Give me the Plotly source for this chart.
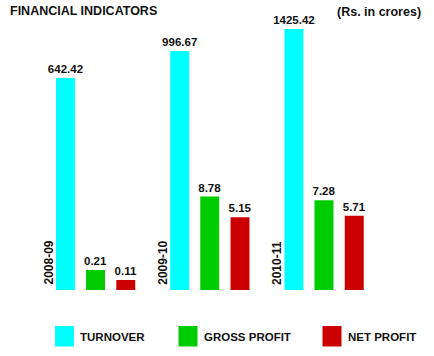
import numpy as np
import plotly.graph_objects as go

years = ["2008-09", "2009-10", "2010-11"]
turnover = [642.42, 996.67, 1425.42]
gross_profit = [0.21, 8.78, 7.28]
net_profit = [0.11, 5.15, 5.71]
series_names = ["TURNOVER", "GROSS PROFIT", "NET PROFIT"]
title_text = "FINANCIAL INDICATORS"
unit_text = "(Rs. in crores)"

colors = ["#00FFFF", "#00CC00", "#CC0000"]
FONT = "Arial, Liberation Sans, Helvetica, sans-serif"

W, H = 434, 356
T, B = 20, 66
PH = H - T - B  # plot height in px

fig = go.Figure()
series = [turnover, gross_profit, net_profit]
axes = ["y", "y2", "y3"]
offsets = [-0.346, -0.083, 0.182]
for vals, name, col, ax, off in zip(series, series_names, colors, axes, offsets):
    fig.add_trace(go.Bar(
        x=years, y=vals, name=name, yaxis=ax,
        marker=dict(color=col, line=dict(width=0)),
        width=0.166, offset=off,
        text=[f"{v:.2f}" for v in vals], textposition="outside",
        constraintext="none",
        textfont=dict(family=FONT, size=11.5, color="#111111", weight="bold"),
        cliponaxis=False, showlegend=False, hoverinfo="skip",
    ))

hidden = dict(visible=False, showgrid=False, zeroline=False)
fig.update_layout(
    width=W, height=H,
    margin=dict(l=0, r=0, t=T, b=B),
    paper_bgcolor="white", plot_bgcolor="white",
    showlegend=False,
    xaxis=dict(**hidden, type="category", range=[-0.836, 2.963]),
    yaxis=dict(**hidden, type="log", range=[1.31, 1.31 + PH / 141.5]),
    yaxis2=dict(**hidden, type="log", overlaying="y", range=[-1.116, -1.116 + PH / 45.36]),
    yaxis3=dict(**hidden, type="log", overlaying="y", range=[-1.2237, -1.2237 + PH / 37.55]),
)

def py(pix):
    return (H - B - pix) / PH

# year labels
for yr in years:
    fig.add_annotation(x=yr, xref="x", y=0, yref="paper", text=yr, textangle=-90,
                       xanchor="center", yanchor="bottom", xshift=-47, yshift=3,
                       showarrow=False,
                       font=dict(family=FONT, size=12, color="#111111", weight="bold"))

# titles
fig.add_annotation(x=8 / W, y=py(11), xref="paper", yref="paper", text=title_text,
                   xanchor="left", yanchor="middle", showarrow=False,
                   font=dict(family=FONT, size=12.5, color="#111111", weight="bold"))
fig.add_annotation(x=335 / W, y=py(12), xref="paper", yref="paper", text=unit_text,
                   xanchor="left", yanchor="middle", showarrow=False,
                   font=dict(family=FONT, size=12.5, color="#111111", weight="bold"))

# custom legend
sq_x = [55, 178.5, 322.5]
txt_x = [78, 201.5, 345.5]
for name, col, sx, tx in zip(series_names, colors, sq_x, txt_x):
    fig.add_shape(type="rect", xref="paper", yref="paper",
                  x0=sx / W, x1=(sx + 19) / W, y0=py(346.5), y1=py(326),
                  fillcolor=col, line=dict(width=0))
    fig.add_annotation(x=tx / W, y=py(337), xref="paper", yref="paper", text=name,
                       xanchor="left", yanchor="middle", showarrow=False,
                       font=dict(family=FONT, size=11.5, color="#111111", weight="bold"))

fig.write_html("out.html", config={"displayModeBar": False},
               post_script="document.body.style.margin='0';")
